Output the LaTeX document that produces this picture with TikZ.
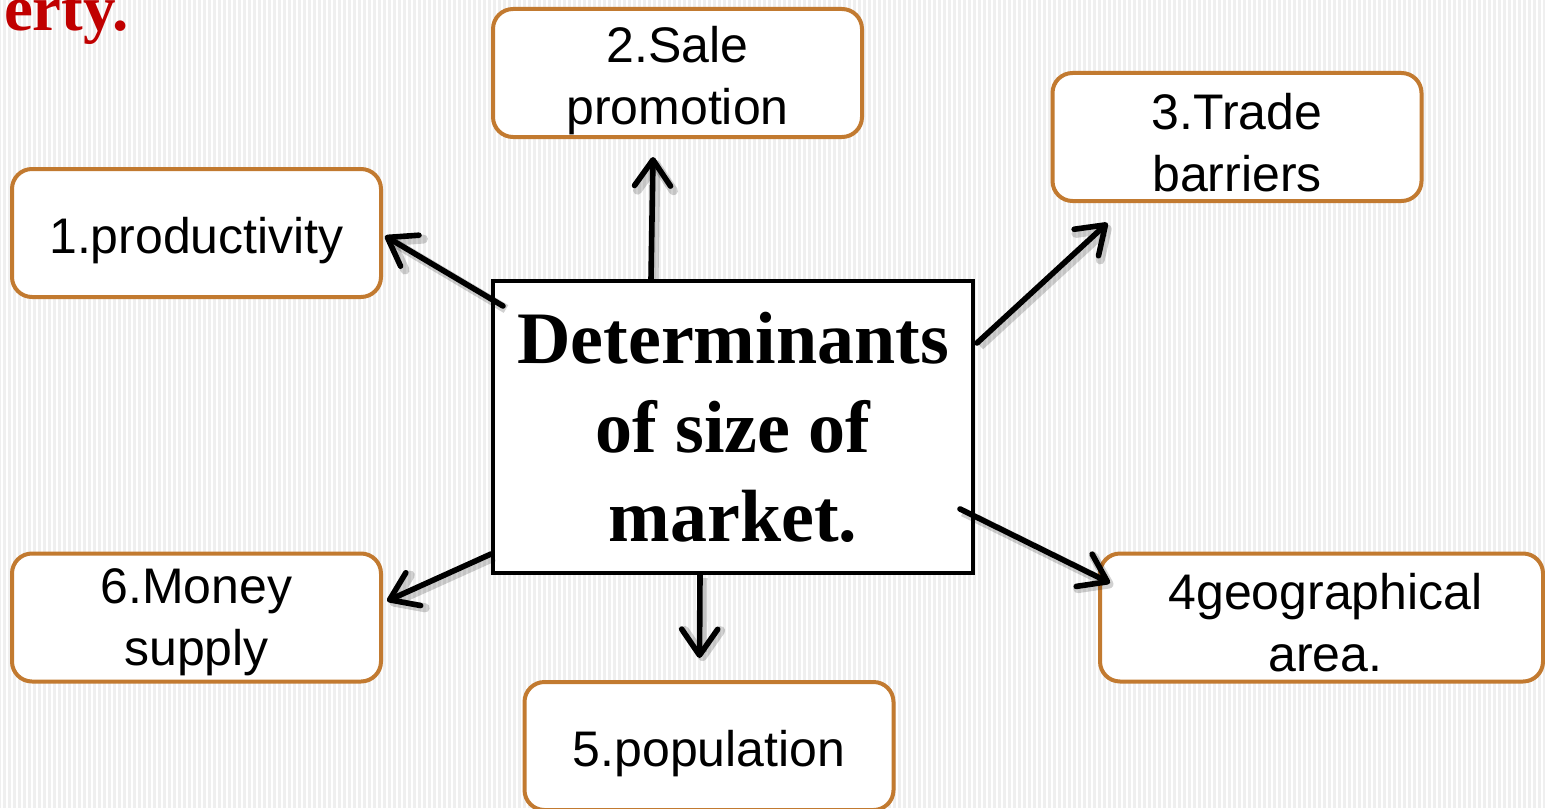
\documentclass[tikz,border=0pt]{standalone}
\usepackage{fontspec}
\setmainfont{Liberation Serif}
\newfontfamily\boxfont{Liberation Sans}
\usetikzlibrary{arrows.meta,calc}
\definecolor{obrd}{HTML}{C27A30}
\definecolor{bgc}{HTML}{EFEFEF}
\definecolor{redt}{HTML}{C00000}
\begin{document}
\begin{tikzpicture}[x=0.5pt,y=-0.5pt,
  box/.style={draw=obrd, line width=2pt, fill=white, rounded corners=10pt,
    minimum width=184.5pt, minimum height=64pt, inner sep=0pt},
  lbl/.style={font=\boxfont\fontsize{25}{31}\selectfont, align=center, inner sep=0pt},
  core/.style={draw=black, line width=2pt, fill=white, minimum width=240pt,
    minimum height=146pt, align=center, inner sep=0pt,
    font=\bfseries\fontsize{37}{44.5}\selectfont},
  arr/.style={line width=2.8pt, line cap=round,
    -{Straight Barb[round,length=13pt,width=18pt]},
    preaction={draw=black, opacity=0.18, line width=4.5pt,
      transform canvas={shift={(1.5pt,-1.5pt)}}}},
  hdr/.style={font=\bfseries\fontsize{32.5}{38}\selectfont, text=redt,
    anchor=base east, inner sep=0pt}]
\useasboundingbox (0,0) rectangle (1545,808);
\clip (0,0) rectangle (1545,808);
\fill[bgc] (0,0) rectangle (1545,808);
\foreach \i in {2,7,...,1545} \draw[white, line width=0.6pt] (\i,0) -- (\i,808);

\node[hdr] (head) at (129,31) {erty.};

\node[core] (c) at (733,427) {Determinants\\of size of\\market.};

\node[box] (n1) at (196.5,233) {};
\node[lbl] (t1) at ($(n1.center)+(0,8)$) {1.productivity};
\node[box] (n2) at (677.5,73) {};
\node[lbl] (t2) at ($(n2.center)+(0,8)$) {2.Sale\\promotion};
\node[box] (n3) at (1237,137) {};
\node[lbl] (t3) at ($(n3.center)+(0,6)$) {3.Trade\\barriers};
\node[box, minimum width=221.5pt] (n4) at (1321.5,617.5) {};
\node[lbl] (t4) at ($(n4.center)+(4,5)$) {4geographical\\area.};
\node[box] (n5) at (709,746) {};
\node[lbl] (t5) at ($(n5.center)+(0,8)$) {5.population};
\node[box] (n6) at (196.5,617.5) {};
\node[lbl] (t6) at ($(n6.center)+(0,5)$) {6.Money\\supply};

\draw[arr] ($(c.north west)+(12,27)$) -- ($(n1.east)+(2,3)$);
\draw[arr] ($(c.north west)+(160,0)$) -- ($(n2.south)+(-24.5,18)$);
\draw[arr] ($(c.north east)+(2,64)$) -- ($(n3.south west)+(57,20)$);
\draw[arr] ($(c.south east)+(-15,-66)$) -- ($(n4.west)+(12,-34.5)$);
\draw[arr] ($(c.south west)+(209,0)$) -- ($(n5.north west)+(177,-22)$);
\draw[arr] ($(c.south west)+(0,-21)$) -- ($(n6.east)+(4,-16.5)$);
\end{tikzpicture}
\end{document}
